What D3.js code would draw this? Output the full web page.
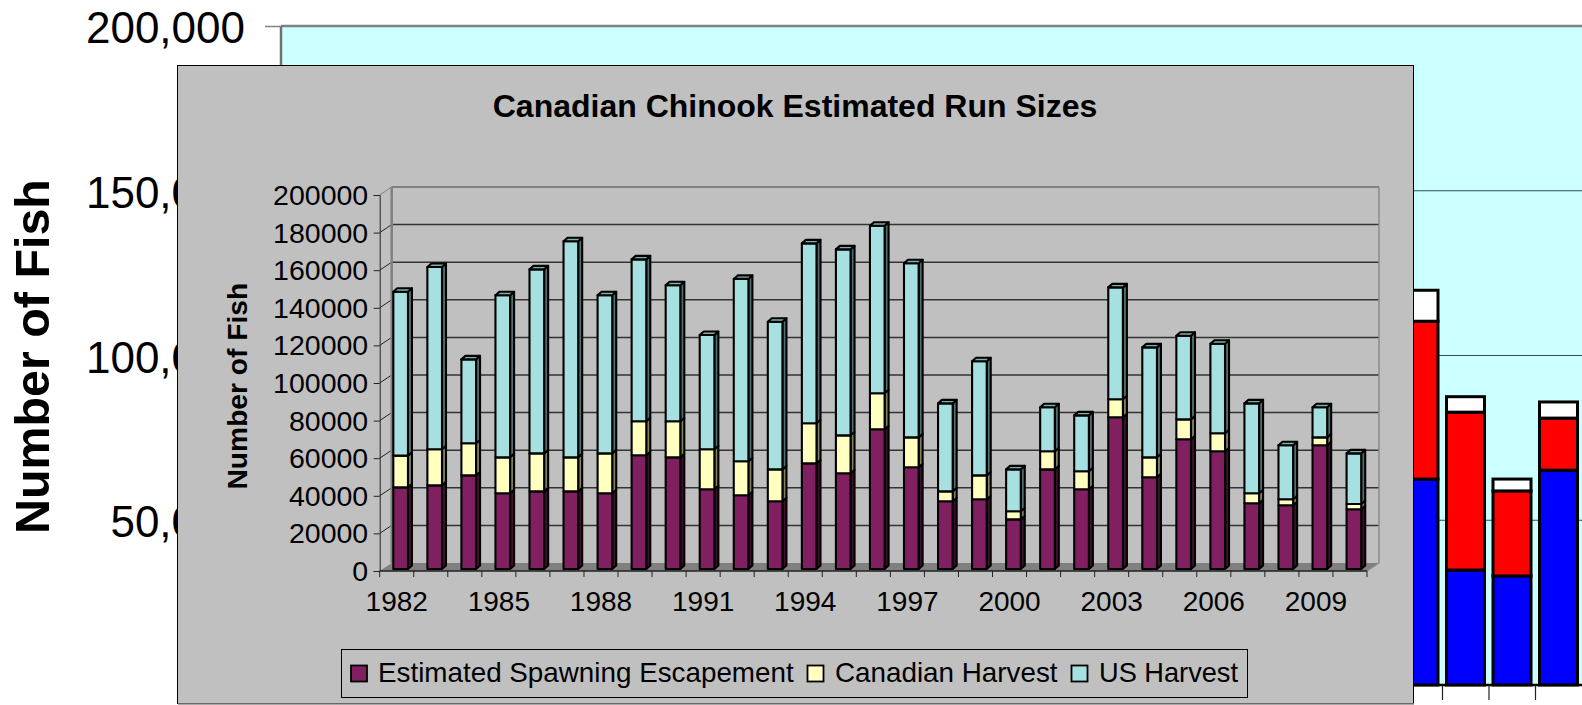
<!DOCTYPE html>
<html><head><meta charset="utf-8">
<script src="https://cdn.jsdelivr.net/npm/d3@7/dist/d3.min.js"></script>
<style>html,body{margin:0;padding:0;background:#fff;overflow:hidden}svg{display:block}text{font-family:"Liberation Sans",Arial,sans-serif;fill:#000}</style>
</head><body><svg id="c" width="1582" height="705"></svg>
<script>
const years = d3.range(1982, 2011);
const yearLabels = [1982,1985,1988,1991,1994,1997,2000,2003,2006,2009];
const seriesNames = ["Estimated Spawning Escapement","Canadian Harvest","US Harvest"];
const spawning = [43400,44500,49800,40300,41300,41300,40300,60500,59400,42400,39200,36000,56200,50900,74300,54100,36000,37100,26400,53000,42400,80700,48800,69000,62600,35000,33900,65800,31800];
const canadian = [16900,19200,17100,19100,20200,18100,21200,18100,19200,21300,18100,17000,21300,20200,19200,15900,5300,12700,4300,9600,9600,9600,10600,10600,9600,5300,3200,4200,2800];
const usHarvest = [87200,96900,44600,86200,97900,114900,84100,86100,72300,60800,97000,78500,95700,98900,89100,92600,46800,60700,22300,23400,29700,59500,58500,44500,47600,47800,28700,16000,26900];
const innerTicks = d3.range(0, 200001, 20000);
// chart behind the inset: only its last four bars are visible
const backCats = ["a","b","c","d"];
const backBlue = [62500,34900,33100,65200];
const backRed = [47900,47900,25800,15800];
const backWhite = [9400,4700,3600,4900];
const backTicks = [50000,100000,150000,200000];

const svg = d3.select("#c");
const line = (g,x1,y1,x2,y2,c,w)=>g.append("line").attr("x1",x1).attr("y1",y1).attr("x2",x2).attr("y2",y2).attr("stroke",c).attr("stroke-width",w);

/* ---------- back chart ---------- */
const by = d3.scaleLinear().domain([0,200000]).range([685,26]);
const bx = d3.scaleBand().domain(backCats).range([1396,1582]);
const back = svg.append("g");
back.append("rect").attr("x",281).attr("y",26).attr("width",1320).attr("height",659).attr("fill","#CCFFFF");
backTicks.filter(d=>d<200000).forEach(d=>line(back,281,by(d),1582,by(d),"#2f4f4f",1.2));
line(back,281,26,1582,26,"#808080",2.5);
line(back,281,26,281,685,"#707070",2.5);
const bAxis = back.append("g").attr("transform","translate(281,0)")
  .call(d3.axisLeft(by).tickValues(backTicks).tickFormat(d3.format(",")).tickSize(16).tickPadding(20));
bAxis.select(".domain").remove();
bAxis.selectAll("line").attr("stroke","#808080").attr("stroke-width",1.5);
bAxis.selectAll("text").attr("font-size",44).attr("dy",null).attr("transform","translate(0,16.5)");
backCats.forEach((c,i)=>{
  const x = bx(c)+4, w = 38;
  let acc = 0;
  [[backBlue,"#0000FF"],[backRed,"#FF0000"],[backWhite,"#FFFFFF"]].forEach(([arr,col])=>{
    back.append("rect").attr("x",x).attr("width",w).attr("y",by(acc+arr[i])).attr("height",by(acc)-by(acc+arr[i]))
      .attr("fill",col).attr("stroke","#000").attr("stroke-width",3);
    acc += arr[i];
  });
});
line(back,1396,685,1582,685,"#000",2.5);
backCats.forEach(c=>line(back,bx(c),685,bx(c),700,"#222",1.2));
back.append("text").attr("transform","translate(49,534) rotate(-90)").attr("font-size",48.4).attr("font-weight","bold").text("Number of Fish");

/* ---------- inset ---------- */
const inset = svg.append("g");
inset.append("rect").attr("x",177.5).attr("y",65.5).attr("width",1236).attr("height",638).attr("fill","#C0C0C0").attr("stroke","#000").attr("stroke-width",1);
line(inset,178,704,1414,704,"#8c8c8c",1.5);
inset.append("text").attr("x",795).attr("y",117).attr("text-anchor","middle").attr("font-size",32).attr("font-weight","bold").text("Canadian Chinook Estimated Run Sizes");
inset.append("text").attr("transform","translate(247,489.5) rotate(-90)").attr("font-size",28.2).attr("font-weight","bold").text("Number of Fish");

const x0 = 379.7, x1 = 1367, y0 = 571, y1 = 195, dx = 12, dy = -8;
const x = d3.scaleBand().domain(years).range([x0,x1]);
const y = d3.scaleLinear().domain([0,200000]).range([y0,y1]);

// floor and walls
inset.append("polygon").attr("points",[[x0,y0],[x0+dx,y0+dy],[x1+dx,y0+dy],[x1,y0]].join(" ")).attr("fill","#808080");
innerTicks.filter(d=>d>0).forEach(d=>{
  if(d<200000) line(inset,x0+dx,y(d)+dy,x1+dx,y(d)+dy,"#333",1.5);
  line(inset,x0,y(d),x0+dx,y(d)+dy,d===200000?"#808080":"#222",1);
});
line(inset,x0+dx,y1+dy,x1+dx,y1+dy,"#808080",2);
line(inset,x0+dx,y1+dy,x0+dx,y0+dy,"#808080",2.5);
line(inset,x1+dx,y1+dy,x1+dx,y0+dy,"#8c8c8c",1.5);
line(inset,x1,y0,x1+dx,y0+dy,"#8c8c8c",1.2);

// bars
const faces = ["#802060","#FFFFC0","#A6E0E0"];
const sides = ["#3F1030","#808060","#507070"];
const caps  = ["#602048","#B0B080","#7DB0B0"];
const bw = x.bandwidth()*0.43, bo = x.bandwidth()*0.40, sx = 4, sy = -3.5, lift = -2;
const barsG = inset.append("g");
years.forEach((yr,i)=>{
  const vals = [spawning[i],canadian[i],usHarvest[i]];
  const left = x(yr)+bo, right = left+bw;
  let acc = 0;
  const tops = vals.map(v=>acc+=v);
  const g = barsG.append("g").attr("stroke","#000").attr("stroke-width",2.1).attr("stroke-linejoin","round");
  vals.forEach((v,k)=>{
    const base = y(tops[k]-v)+lift, top = y(tops[k])+lift;
    g.append("polygon").attr("points",[[right,base],[right+sx,base+sy],[right+sx,top+sy],[right,top]].join(" ")).attr("fill",sides[k]);
    g.append("rect").attr("x",left).attr("y",top).attr("width",bw).attr("height",base-top).attr("fill",faces[k]);
  });
  const t = y(tops[2])+lift;
  g.append("polygon").attr("points",[[left,t],[left+sx,t+sy],[right+sx,t+sy],[right,t]].join(" ")).attr("fill",caps[2]);
});

// axes
const ay = inset.append("g").attr("transform",`translate(${x0},0)`)
  .call(d3.axisLeft(y).tickValues(innerTicks).tickFormat(d3.format("d")).tickSize(6).tickPadding(5.5));
ay.select(".domain").attr("stroke","#222").attr("stroke-width",1);
ay.selectAll("line").attr("stroke","#222").attr("stroke-width",1);
ay.selectAll("text").attr("font-size",28.5).attr("dy",null).attr("transform","translate(0,9.5)");
line(inset,x0,y0,x1,y0,"#222",1.5);
years.concat([null]).forEach(d=>{ const px = d===null?x1:x(d); line(inset,px,y0,px,y0+6,"#222",1); });
const ax = inset.append("g").attr("transform",`translate(0,${y0})`)
  .call(d3.axisBottom(x).tickValues(yearLabels).tickSize(0).tickPadding(0));
ax.select(".domain").remove();
ax.selectAll("text").attr("font-size",28).attr("dy",null).attr("y",39.7);

// legend
inset.append("rect").attr("x",341.5).attr("y",649.5).attr("width",906).attr("height",48).attr("fill","none").attr("stroke","#000").attr("stroke-width",1);
const swX = [351,807.5,1071.5], txX = [378,835,1099], legendSize = [27.8,27.8,27.2];
seriesNames.forEach((n,k)=>{
  inset.append("rect").attr("x",swX[k]).attr("y",665.5).attr("width",16).attr("height",16).attr("fill",faces[k]).attr("stroke","#000").attr("stroke-width",1.8);
  inset.append("text").attr("x",txX[k]).attr("y",681.5).attr("font-size",legendSize[k]).text(n);
});
</script></body></html>
